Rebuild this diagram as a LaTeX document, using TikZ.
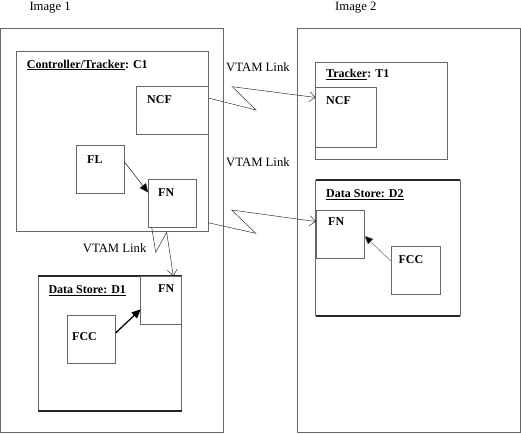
\documentclass[tikz,border=0pt]{standalone}
\usepackage{fontspec}
\setmainfont{Liberation Serif}
\usetikzlibrary{arrows.meta,calc}
\tikzset{
  box/.style={draw=black!60, line width=0.8pt, rectangle, anchor=north west,
    inner sep=0pt, outer sep=0pt},
  storeedge/.style={draw=black!85, line width=1.8pt},
  title/.style={anchor=west, inner sep=0pt, font=\fontsize{12}{14}\selectfont\bfseries},
  plain/.style={anchor=west, inner sep=0pt, font=\fontsize{12.7}{15}\selectfont},
  vtam/.style={draw=black!80, line width=0.5pt, -{Straight Barb[length=6pt,width=10pt]}},
  flow/.style={draw=black!80, line width=0.6pt, -{Triangle[length=9pt,width=8pt,fill=black]}},
}
\begin{document}
\begin{tikzpicture}[x=1pt,y=-1pt]
  \useasboundingbox (0,0) rectangle (521,433);
  % the two images
  \node[box, minimum width=222.5pt, minimum height=403.5pt] (img1) at (0.5,28.5) {};
  \node[box, minimum width=222.5pt, minimum height=403.5pt] (img2) at (297.5,28.5) {};
  \node[plain] (img1lbl) at (29.3,7.5) {Image 1};
  \node[plain] (img2lbl) at (335,7.5) {Image 2};

  % image 1
  \node[box, minimum width=191.6pt, minimum height=179.3pt] (c1) at (16.7,51.7) {};
  \node[box, minimum width=72.3pt, minimum height=48pt] (ncfa) at (136,86) {};
  \node[box, minimum width=48pt, minimum height=48.4pt] (fl) at (76.3,145.3) {};
  \node[box, minimum width=48pt, minimum height=47.7pt] (fna) at (148.3,179.3) {};
  \node[box, minimum width=143.4pt, minimum height=134.7pt] (d1) at (38.3,276) {};
  \draw[storeedge] (d1.north west) -- (d1.north east);
  \draw[storeedge] (d1.south west) -- (d1.south east);
  \node[box, minimum width=41pt, minimum height=48.3pt] (fnb) at (140.7,276) {};
  \node[box, minimum width=48.4pt, minimum height=48.3pt] (fcca) at (67.3,315) {};

  \node[title] (c1lbl) at (26.7,65) {\underline{Controller/Tracker}: C1};
  \node[title] (ncfalbl) at (147,100) {NCF};
  \node[title] (fllbl) at (87,160) {FL};
  \node[title] (fnalbl) at (158,193) {FN};
  \node[title] (d1lbl) at (48.3,290.7) {\underline{Data Store: D1}};
  \node[title] (fnblbl) at (158,289) {FN};
  \node[title] (fccalbl) at (72,337) {FCC};

  % image 2
  \node[box, minimum width=132pt, minimum height=96.7pt] (t1) at (315.7,62.3) {};
  \node[box, minimum width=60.3pt, minimum height=60pt] (ncfb) at (315.7,87.3) {};
  \node[box, minimum width=144.3pt, minimum height=135.7pt] (d2) at (315.7,180) {};
  \draw[storeedge] (d2.north west) -- (d2.north east);
  \draw[storeedge] (d2.south west) -- (d2.south east);
  \node[box, minimum width=48.3pt, minimum height=48.3pt] (fnc) at (316,210) {};
  \node[box, minimum width=48.6pt, minimum height=48pt] (fccb) at (391.7,246) {};

  \node[title] (t1lbl) at (326,74.3) {\underline{Tracker}: T1};
  \node[title] (ncfblbl) at (326,100.7) {NCF};
  \node[title] (d2lbl) at (326,195) {\underline{Data Store: D2}};
  \node[title] (fnclbl) at (328,221.7) {FN};
  \node[title] (fccblbl) at (398.3,259.3) {FCC};

  % VTAM links
  \node[plain] (link1lbl) at (226,66.7) {VTAM Link};
  \node[plain] (link2lbl) at (226,161.7) {VTAM Link};
  \node[plain] (link3lbl) at (82.7,247.7) {VTAM Link};
  \coordinate (z1a) at (256,110);
  \coordinate (z1b) at (232.3,86.7);
  \coordinate (z2a) at (255.7,233.3);
  \coordinate (z2b) at (231.7,210);
  \coordinate (z3a) at (155.7,252.3);
  \coordinate (z3b) at (166.7,232.3);
  \draw[vtam] ($(ncfa.north east)!0.25!(ncfa.south east)$) -- (z1a) -- (z1b)
    -- ($(ncfb.north west)!0.17!(ncfb.south west)$);
  \draw[vtam] ($(c1.north east)!0.954!(c1.south east)$) -- (z2a) -- (z2b)
    -- ($(fnc.north west)!0.24!(fnc.south west)$);
  \draw[vtam] ($(fna.south west)!0.07!(fna.south east)$) -- (z3a) -- (z3b)
    -- ($(fnb.north west)!0.795!(fnb.north east)$);

  % flows inside the boxes
  \draw[flow] ($(fl.north east)!0.34!(fl.south east)$)
    -- ($(fna.north west)!0.28!(fna.south west)$);
  \draw[flow, line width=1.3pt, draw=black]
    ($(fcca.north east)!0.37!(fcca.south east)$)
    -- ($(fnb.north west)!0.69!(fnb.south west)$);
  \draw[flow, draw=black!50] ($(fccb.north west)!0.33!(fccb.south west)$)
    -- ($(fnc.north east)!0.53!(fnc.south east)$);
\end{tikzpicture}
\end{document}
